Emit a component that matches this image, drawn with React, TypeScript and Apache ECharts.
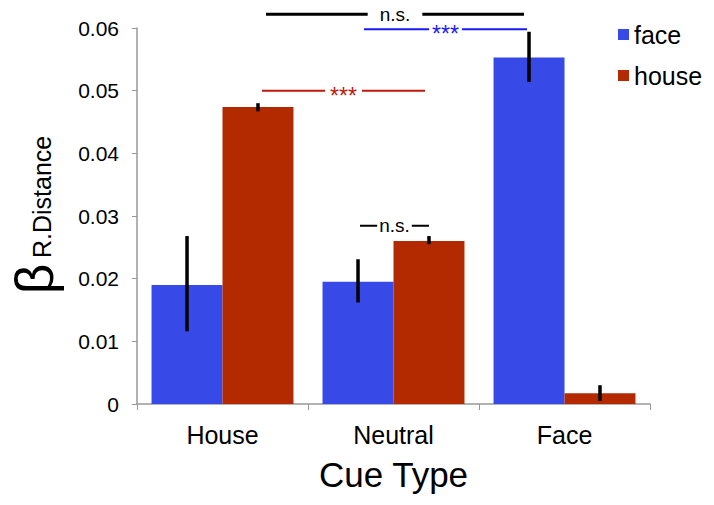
import React, { useEffect, useRef } from "react";
import * as echarts from "echarts";

const categories = ["House", "Neutral", "Face"];
const seriesNames = ["face", "house"];
const faceValues = [0.019, 0.0195, 0.0553];
const houseValues = [0.0474, 0.026, 0.0017];
const faceErrLow = [0.0116, 0.0162, 0.0514];
const faceErrHigh = [0.0268, 0.0231, 0.0594];
const houseErrLow = [0.0467, 0.0255, 0.0005];
const houseErrHigh = [0.048, 0.0268, 0.003];
const yTicks = [0, 0.01, 0.02, 0.03, 0.04, 0.05, 0.06];
// annotations: from (category, series) to (category, series) at a y value
const annFrom: [number, number][] = [[0, 1], [1, 0], [0, 1], [1, 0]];
const annTo: [number, number][] = [[2, 0], [2, 0], [1, 1], [1, 1]];
const annY = [0.0622, 0.0598, 0.05, 0.02845];
const annLabels = ["n.s.", "***", "***", "n.s."];
// styling of annotations
const annColors = ["#000000", "#1a1aff", "#c0180c", "#000000"];
const annInset: [number, number][] = [[8, -5], [6, -2], [4, -4], [2, 0]];
const annPad = [12, 3, 5, 2];
const annWidth = [3, 2, 2, 2];

const BLUE = "#3749e6";
const RED = "#b32a00";
const CAT_GAP = 0.17;

export default function App() {
  const ref = useRef<HTMLDivElement>(null);
  useEffect(() => {
    document.body.style.margin = "0";
    if (!ref.current) return;
    const chart = echarts.init(ref.current, undefined, { renderer: "svg" });
    const font = "Liberation Sans, Arial, Helvetica, sans-serif";

    const offsetFor = (band: number, s: number) =>
      (s === 0 ? -1 : 1) * band * (1 - CAT_GAP) / 4;

    const errSeries = (low: number[], high: number[], s: number) => ({
      type: "custom",
      name: "err" + s,
      z: 5,
      data: categories.map((_, i) => [i, low[i], high[i]]),
      encode: { x: 0, y: [1, 2] },
      renderItem: (params: any, api: any) => {
        const i = api.value(0);
        const band = api.size([1, 0])[0];
        const p1 = api.coord([i, api.value(1)]);
        const p2 = api.coord([i, api.value(2)]);
        const x = p1[0] + offsetFor(band, s);
        return {
          type: "line",
          shape: { x1: x, y1: p1[1], x2: x, y2: p2[1] },
          style: { stroke: "#000", lineWidth: 3.5 },
        };
      },
    });

    const annSeries = {
      type: "custom",
      name: "ann",
      z: 6,
      clip: false,
      data: annY.map((y, k) => [annFrom[k][0], y]),
      encode: { x: 0, y: 1 },
      renderItem: (params: any, api: any) => {
        const k = params.dataIndex;
        const band = api.size([1, 0])[0];
        const p1 = api.coord([annFrom[k][0], annY[k]]);
        const p2 = api.coord([annTo[k][0], annY[k]]);
        const x1 = p1[0] + offsetFor(band, annFrom[k][1]) + annInset[k][0];
        const x2 = p2[0] + offsetFor(band, annTo[k][1]) + annInset[k][1];
        const y = p1[1];
        const isStar = annLabels[k] === "***";
        return {
          type: "group",
          children: [
            {
              type: "line",
              shape: { x1, y1: y, x2, y2: y },
              style: { stroke: annColors[k], lineWidth: annWidth[k] },
            },
            {
              type: "text",
              x: (x1 + x2) / 2,
              y: y + (isStar ? 5 : 0),
              style: {
                text: annLabels[k],
                fill: annColors[k],
                font: isStar ? `23px ${font}` : `19px ${font}`,
                align: "center",
                verticalAlign: "middle",
                backgroundColor: "#fff",
                padding: [0, annPad[k], 0, annPad[k]],
              },
            },
          ],
        };
      },
    };

    chart.setOption({
      animation: false,
      textStyle: { fontFamily: font },
      grid: {
        left: 137,
        right: 64,
        top: 28,
        bottom: 101,
        containLabel: false,
        outerBoundsMode: "none",
      },
      legend: {
        data: seriesNames,
        orient: "vertical",
        left: 613,
        top: 17,
        icon: "rect",
        itemWidth: 11,
        itemHeight: 11,
        itemGap: 16,
        textStyle: { fontSize: 25, color: "#000", fontFamily: font },
      },
      xAxis: {
        type: "category",
        data: categories,
        name: "Cue Type",
        nameLocation: "middle",
        nameGap: 53,
        nameTextStyle: { fontSize: 35, color: "#000", fontFamily: font },
        axisLine: { lineStyle: { color: "#999", width: 1.5 } },
        axisTick: { show: true, length: 6, lineStyle: { color: "#999" } },
        axisLabel: { fontSize: 25, color: "#000", margin: 18 },
      },
      yAxis: {
        type: "value",
        min: 0,
        max: 0.06,
        interval: 0.01,
        splitLine: { show: false },
        axisLine: { show: true, lineStyle: { color: "#999", width: 1.5 } },
        axisTick: { show: true, length: 5, lineStyle: { color: "#999" } },
        axisLabel: {
          fontSize: 21,
          color: "#000",
          margin: 18,
          formatter: (v: number) => {
            const t = yTicks.find((k) => Math.abs(k - v) < 1e-9);
            return t === undefined ? "" : String(t);
          },
        },
      },
      graphic: [
        {
          type: "text",
          x: 34,
          y: 279,
          rotation: Math.PI / 2,
          style: {
            text: "β",
            font: `53px ${font}`,
            fill: "#000",
            align: "center",
            verticalAlign: "middle",
          },
        },
        {
          type: "text",
          x: 29,
          y: 258,
          rotation: Math.PI / 2,
          style: {
            text: "R.Distance",
            font: `25px ${font}`,
            fill: "#000",
            align: "left",
            verticalAlign: "top",
          },
        },
      ],
      series: [
        {
          type: "bar",
          name: "face",
          data: faceValues,
          itemStyle: { color: BLUE },
          barGap: "0%",
          barCategoryGap: CAT_GAP * 100 + "%",
        },
        {
          type: "bar",
          name: "house",
          data: houseValues,
          itemStyle: { color: RED },
          barGap: "0%",
          barCategoryGap: CAT_GAP * 100 + "%",
        },
        errSeries(faceErrLow, faceErrHigh, 0),
        errSeries(houseErrLow, houseErrHigh, 1),
        annSeries,
      ],
    });

    return () => chart.dispose();
  }, []);
  return <div ref={ref} style={{ width: 714, height: 505 }} />;
}
